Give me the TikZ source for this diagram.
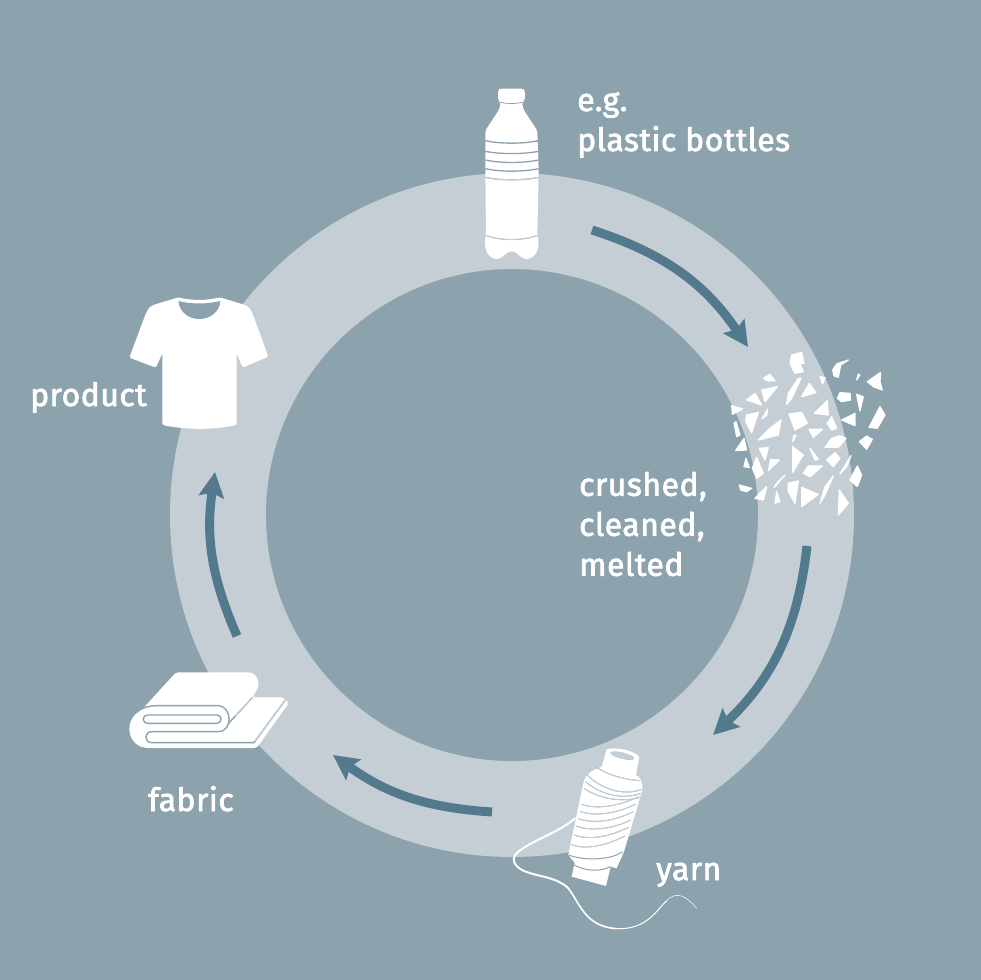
\documentclass[tikz,border=0pt]{standalone}
\usepackage{fontspec}
\setmainfont[FakeBold=2.2,LetterSpace=1.5]{Fira Sans}
\usetikzlibrary{arrows.meta}
\definecolor{bgc}{HTML}{8CA2AD}
\definecolor{ringc}{HTML}{C6CED5}
\definecolor{arrc}{HTML}{527A8C}
\newcommand{\ringclip}{\clip (512,515) circle[radius=342];}
\newcommand{\shard}[1]{\filldraw[white,line width=1.2pt,line join=round] #1 -- cycle;}
\tikzset{
  flow/.style={draw=arrc,line width=9pt,-{Stealth[length=25pt,width=25pt,inset=4pt]}},
  lbl/.style={text=white,inner sep=0pt,align=left,font=\fontsize{32}{40}\selectfont},
  zoomed/.style={x=0.3333pt,y=-0.3333pt}
}
\begin{document}
\begin{tikzpicture}[x=1pt,y=-1pt]
\useasboundingbox (0,0) rectangle (980,980);
\fill[bgc] (-5,-5) rectangle (985,985);
\fill[ringc,even odd rule] (512,515) circle[radius=342] (512,515) circle[radius=246];

% arrows
\coordinate (a1) at (592,230); \coordinate (a2) at (748,347);
\coordinate (b1) at (807,546); \coordinate (b2) at (713,735);
\coordinate (c1) at (492,812); \coordinate (c2) at (333,755);
\coordinate (d1) at (237,636); \coordinate (d2) at (215,472);
\draw[flow] (a1) to[bend left=19] (a2);
\draw[flow] (b1) to[bend left=20] (b2);
\draw[flow] (c1) to[bend left=16] (c2);
\draw[flow] (d1) to[bend left=16] (d2);

% bottle
\begin{scope}[shift={(460,70)},zoomed]
\fill[white,rounded corners=2pt] (114,60) -- (120,56) -- (190,56) -- (195,62) -- (195,92) -- (186,96) -- (190,118) -- (232,182) -- (236,300) -- (232,495)
  .. controls (238,520) and (236,555) .. (205,567) .. controls (185,568) and (170,545) .. (155,545) .. controls (140,545) and (125,568) .. (105,567)
  .. controls (75,555) and (72,520) .. (78,495) -- (76,300) -- (76,182) -- (118,118) -- (122,96) -- (114,92) -- cycle;
\end{scope}
\foreach \cc/\doclip in {bgc/0,ringc/1}{
\begin{scope}
\ifnum\doclip=1 \ringclip\fi
\begin{scope}[shift={(460,70)},zoomed]
\draw[\cc,line width=1.3pt] (76,212) .. controls (120,222) and (190,222) .. (236,212);
\draw[\cc,line width=1.3pt] (76,244) .. controls (120,253) and (190,253) .. (236,244);
\draw[\cc,line width=1.3pt] (76,270) .. controls (120,280) and (190,280) .. (236,270);
\draw[\cc,line width=1.3pt] (76,296) .. controls (120,306) and (190,306) .. (236,296);
\draw[\cc,line width=1.1pt] (76,322) .. controls (120,332) and (190,332) .. (236,322);
\draw[\cc,line width=0.9pt] (78,496) .. controls (120,513) and (190,513) .. (232,496);
\draw[\cc,line width=0.8pt] (118,96) .. controls (140,102) and (170,102) .. (190,96);
\end{scope}
\end{scope}}

% shards
\begin{scope}[shift={(720,340)},zoomed]
\shard{(215,45) -- (245,37) -- (252,70) -- (240,72) -- (250,95) -- (225,100) -- (210,70)}
\shard{(130,115) -- (150,103) -- (165,122) -- (145,123)}
\shard{(235,115) -- (243,115) -- (215,175) -- (200,193) -- (205,160)}
\shard{(300,110) -- (315,113) -- (308,132)}
\shard{(268,130) -- (288,158) -- (245,170)}
\shard{(125,150) -- (172,140) -- (135,185)}
\shard{(80,180) -- (105,160) -- (125,195)}
\shard{(35,197) -- (68,207) -- (37,223)}
\shard{(80,225) -- (115,217) -- (95,278) -- (77,245)}
\shard{(126,237) -- (143,208) -- (140,225)}
\shard{(322,182) -- (325,225) -- (283,220)}
\shard{(207,222) -- (245,217) -- (262,250) -- (225,270)}
\shard{(335,230) -- (350,265) -- (335,270) -- (322,250)}
\shard{(48,245) -- (60,285) -- (50,290) -- (42,250)}
\shard{(183,240) -- (175,285) -- (115,300) -- (150,265)}
\shard{(267,268) -- (307,268) -- (280,292)}
\shard{(222,285) -- (228,287) -- (218,305)}
\shard{(378,295) -- (355,322) -- (315,322) -- (335,295) -- (360,287)}
\shard{(72,295) -- (80,330) -- (47,332)}
\shard{(118,325) -- (145,323) -- (135,360)}
\shard{(218,320) -- (250,345) -- (240,360) -- (218,398)}
\shard{(270,325) -- (295,358) -- (285,360)}
\shard{(345,338) -- (360,355) -- (340,380) -- (320,360)}
\shard{(393,347) -- (380,380) -- (360,402)}
\shard{(78,355) -- (88,383) -- (72,380)}
\shard{(110,352) -- (130,400) -- (110,415) -- (97,385)}
\shard{(178,360) -- (145,392) -- (152,358)}
\shard{(265,378) -- (307,378) -- (270,410) -- (250,400)}
\shard{(195,405) -- (170,430) -- (162,443)}
\shard{(340,408) -- (315,465) -- (300,490) -- (315,440)}
\shard{(412,378) -- (425,405) -- (412,440) -- (390,420)}
\shard{(58,435) -- (95,445) -- (80,455) -- (62,450)}
\shard{(140,440) -- (130,480) -- (105,475)}
\shard{(205,430) -- (235,423) -- (225,490) -- (205,455)}
\shard{(245,442) -- (295,463) -- (245,500)}
\shard{(170,455) -- (180,485) -- (165,490)}
\shard{(358,450) -- (385,490) -- (355,525)}
\shard{(385,60) -- (362,75) -- (355,112) -- (342,108) -- (338,90) -- (350,72)}
\shard{(415,102) -- (420,105) -- (410,120)}
\shard{(482,97) -- (480,125) -- (487,150) -- (460,140) -- (442,125)}
\shard{(360,158) -- (390,160) -- (392,180) -- (365,185) -- (352,175)}
\shard{(410,163) -- (430,170) -- (420,213)}
\shard{(405,220) -- (405,257) -- (365,240)}
\shard{(480,200) -- (495,225) -- (472,265) -- (447,262)}
\shard{(440,288) -- (457,298) -- (440,328) -- (418,305)}
\end{scope}

% thread and spool
\begin{scope}[shift={(500,740)},zoomed]
\draw[white,line width=2pt,line cap=round] (225,235) .. controls (180,275) and (100,300) .. (55,335) .. controls (35,350) and (35,375) .. (70,392) .. controls (110,410) and (170,410) .. (205,445);
\draw[white,line width=1.6pt,line cap=round] (205,445) .. controls (240,490) and (255,560) .. (350,566);
\draw[white,line width=1pt,line cap=round] (350,566) .. controls (440,570) and (470,510) .. (500,482);
\draw[white,line width=0.5pt,line cap=round] (500,482) .. controls (530,450) and (560,470) .. (590,505);
\fill[white,line join=round] (320,28) .. controls (345,20) and (400,30) .. (418,50) -- (408,105) .. controls (420,110) and (428,125) .. (427,150) -- (372,335) -- (350,385) -- (332,380) -- (318,438) -- (215,410) -- (224,368) -- (205,345) -- (210,320) -- (250,130) .. controls (255,105) and (275,90) .. (305,80) -- cycle;
\end{scope}
\foreach \cc/\doclip in {bgc/0,ringc/1}{
\begin{scope}
\ifnum\doclip=1 \ringclip\fi
\begin{scope}[shift={(500,740)},zoomed]
\fill[\cc,rotate around={-14:(367,47)}] (367,47) ellipse[x radius=36,y radius=9];
\foreach \xa/\ya/\xb/\yb in {245/193/415/170, 240/214/408/192, 235/236/400/215, 228/258/392/240, 222/285/385/262, 214/314/375/288}{
  \draw[\cc,line width=0.8pt] (\xa,\ya) .. controls (\xa+50,\ya+18) and (\xb-50,\yb+25) .. (\xb,\yb);
}
\draw[\cc,line width=0.8pt] (262,105) .. controls (300,145) and (370,170) .. (425,148);
\draw[\cc,line width=0.8pt] (257,125) .. controls (295,160) and (365,182) .. (422,160);
\draw[\cc,line width=0.8pt] (252,145) .. controls (290,172) and (360,190) .. (420,172);
\draw[\cc,line width=0.8pt] (290,82) .. controls (330,110) and (390,120) .. (420,122);
\draw[\cc,line width=1pt] (206,345) .. controls (250,362) and (330,362) .. (368,335);
\draw[\cc,line width=1pt] (222,375) .. controls (260,395) and (300,395) .. (332,380);
\end{scope}
\end{scope}}

% fabric
\begin{scope}[shift={(120,660)},zoomed]
\fill[white,rounded corners=2pt] (168,37) -- (380,37) .. controls (412,38) and (420,70) .. (410,90) -- (398,112) -- (488,112) -- (507,128) -- (410,264) -- (90,264) .. controls (20,262) and (10,180) .. (65,150) -- cycle;
\end{scope}
\foreach \cc/\doclip in {bgc/0,ringc/1}{
\begin{scope}
\ifnum\doclip=1 \ringclip\fi
\begin{scope}[shift={(120,660)},zoomed]
\draw[\cc,line width=1.4pt,rounded corners=4pt] (70,165) rectangle (303,190);
\draw[\cc,line width=1.4pt] (48,158) .. controls (65,142) and (90,137) .. (110,137) -- (295,137) .. controls (338,140) and (338,215) .. (295,215) -- (95,215) .. controls (72,215) and (72,248) .. (95,248) -- (402,248) -- (496,120);
\draw[\cc,line width=1.4pt] (326,190) -- (398,112);
\end{scope}
\end{scope}}

% t-shirt
\begin{scope}[shift={(120,285)},zoomed]
\fill[white,rounded corners=1.5pt] (175,37) .. controls (215,47) and (260,47) .. (300,37) -- (375,60) .. controls (390,68) and (395,80) .. (400,92) -- (445,215) -- (368,248) -- (350,205) -- (350,420) .. controls (280,435) and (200,435) .. (127,420) -- (127,205) -- (108,248) -- (28,218) -- (72,100) .. controls (80,80) and (85,68) .. (100,60) -- cycle;
\fill[bgc] (175,48) .. controls (215,58) and (260,58) .. (301,48) .. controls (300,80) and (270,102) .. (238,102) .. controls (205,102) and (178,80) .. (175,48) -- cycle;
\end{scope}

% labels
\node[lbl,anchor=west] (lbottle) at (577,125) {e.g.\\plastic bottles};
\node[lbl,anchor=west] (lcrushed) at (579,524) {crushed,\\cleaned,\\melted};
\node[lbl,anchor=base west] (lproduct) at (30,406) {product};
\node[lbl,anchor=base west] (lfabric) at (148,811) {fabric};
\node[lbl,anchor=base west] (lyarn) at (656,880) {yarn};
\end{tikzpicture}
\end{document}
